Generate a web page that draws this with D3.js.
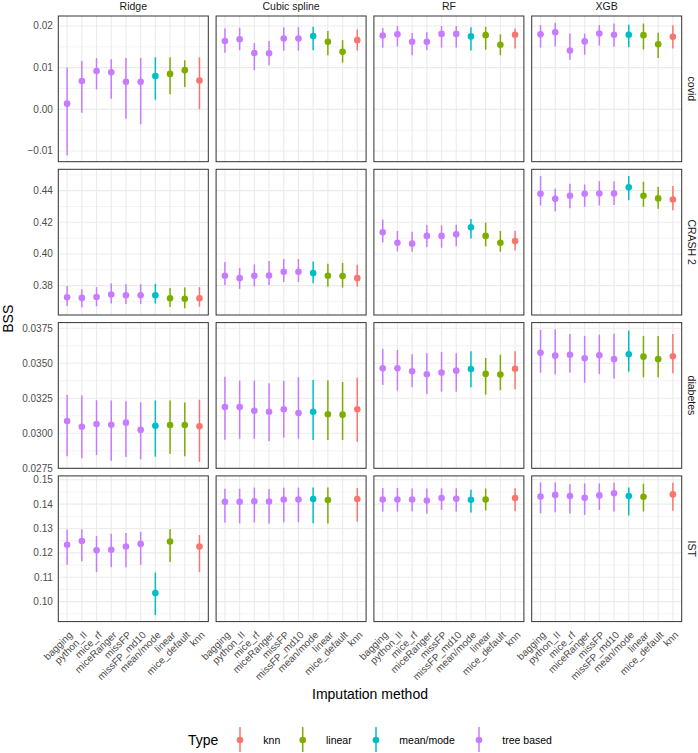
<!DOCTYPE html>
<html>
<head>
<meta charset="utf-8">
<script src="https://cdn.jsdelivr.net/npm/d3@7"></script>
<style>
  html, body { margin: 0; padding: 0; background: #fff; }
  svg { display: block; font-family: "Liberation Sans", Arial, Helvetica, sans-serif; }
</style>
</head>
<body>
<svg id="chart" width="698" height="753"></svg>
<script>
// ---------------- DATA ----------------
const methods = ["bagging","python_II","mice_rf","miceRanger","missFP","missFP_md10","mean/mode","linear","mice_default","knn"];
const methodType = ["tree based","tree based","tree based","tree based","tree based","tree based","mean/mode","linear","linear","knn"];
const models = ["Ridge","Cubic spline","RF","XGB"];
const datasets = ["covid","CRASH 2","diabetes","IST"];
const typeNames = ["knn","linear","mean/mode","tree based"];
const typeColors = ["#F8766D","#7CAE00","#00BFC4","#C77CFF"];

// y tick values / labels per dataset (row)
const covidTicks = [-0.01, 0.00, 0.01, 0.02];
const covidTickLabels = ["\u22120.01","0.00","0.01","0.02"];
const crashTicks = [0.38, 0.40, 0.42, 0.44];
const crashTickLabels = ["0.38","0.40","0.42","0.44"];
const diabetesTicks = [0.0275, 0.0300, 0.0325, 0.0350, 0.0375];
const diabetesTickLabels = ["0.0275","0.0300","0.0325","0.0350","0.0375"];
const istTicks = [0.10, 0.11, 0.12, 0.13, 0.14, 0.15];
const istTickLabels = ["0.10","0.11","0.12","0.13","0.14","0.15"];
// free y ranges per row (expanded data range)
const covidRange = [-0.01257, 0.0224];
const crashRange = [0.3614, 0.4535];
const diabetesRange = [0.0275, 0.0379];
const istRange = [0.0918, 0.1516];

// estimates / lower / upper, per model in order Ridge, Cubic spline, RF, XGB
const covidEst = [
  [0.00136,0.0068,0.0092,0.0089,0.0066,0.0066,0.0080,0.0085,0.0094,0.0069],
  [0.0164,0.0168,0.0135,0.01345,0.0170,0.0170,0.0176,0.0162,0.0138,0.0166],
  [0.0177,0.0180,0.0162,0.0162,0.0181,0.0181,0.0175,0.0178,0.0155,0.0179],
  [0.0180,0.0185,0.0141,0.0163,0.0182,0.0179,0.0179,0.0178,0.0156,0.0174]
];
const covidLo = [
  [-0.0110,-0.0008,0.0048,0.00255,-0.00225,-0.0036,0.0023,0.0036,0.00536,0.0000],
  [0.0136,0.0142,0.0094,0.0106,0.0141,0.0141,0.0142,0.0130,0.0112,0.0141],
  [0.0148,0.0151,0.0130,0.0142,0.0148,0.0148,0.0141,0.0143,0.0130,0.0146],
  [0.0148,0.0151,0.0119,0.0131,0.0153,0.0150,0.0149,0.0144,0.0123,0.0146]
];
const covidHi = [
  [0.0100,0.0116,0.0123,0.0120,0.0123,0.0123,0.0125,0.0125,0.0118,0.0125],
  [0.0194,0.0196,0.0159,0.0164,0.0197,0.0197,0.0198,0.0188,0.0166,0.0192],
  [0.0195,0.0200,0.0183,0.0185,0.0200,0.0200,0.0197,0.0198,0.0180,0.0194],
  [0.0202,0.0208,0.0182,0.0182,0.0202,0.0206,0.0203,0.0206,0.0184,0.0202]
];

const crashEst = [
  [0.3726,0.3722,0.3728,0.3743,0.3739,0.3739,0.3739,0.3720,0.3716,0.3720],
  [0.3862,0.3847,0.3862,0.3864,0.3887,0.3887,0.3879,0.3862,0.3860,0.3847],
  [0.4137,0.4071,0.4065,0.4114,0.4114,0.4124,0.4168,0.4114,0.4071,0.4082],
  [0.4380,0.4349,0.4368,0.4380,0.4382,0.4382,0.4422,0.4368,0.4351,0.4344]
];
const crashLo = [
  [0.3671,0.3663,0.3669,0.3686,0.3684,0.3684,0.3686,0.3665,0.3656,0.3667],
  [0.3802,0.3779,0.3794,0.3802,0.3823,0.3823,0.3815,0.3792,0.3787,0.3794],
  [0.4073,0.4016,0.4014,0.4044,0.4039,0.4048,0.4097,0.4048,0.4014,0.4022],
  [0.4306,0.4270,0.4289,0.4298,0.4306,0.4310,0.4340,0.4298,0.4285,0.4276]
];
const crashHi = [
  [0.3798,0.3777,0.3790,0.3813,0.3809,0.3809,0.3811,0.3785,0.3788,0.3790],
  [0.3949,0.3912,0.3933,0.3955,0.3968,0.3968,0.3952,0.3938,0.3944,0.3931],
  [0.4217,0.4145,0.4141,0.4183,0.4181,0.4185,0.4221,0.4198,0.4145,0.4145],
  [0.4492,0.4412,0.4444,0.4439,0.4460,0.4460,0.4492,0.4456,0.4425,0.4429]
];

const diabetesEst = [
  [0.03088,0.03047,0.03066,0.03061,0.03076,0.03024,0.03054,0.03059,0.03059,0.03050],
  [0.03188,0.03188,0.03161,0.03154,0.03171,0.03145,0.03154,0.03136,0.03133,0.03171],
  [0.03464,0.03464,0.03443,0.03421,0.03433,0.03447,0.03459,0.03424,0.03419,0.03461],
  [0.03574,0.03554,0.03561,0.03536,0.03557,0.03529,0.03564,0.03547,0.03529,0.03550]
];
const diabetesLo = [
  [0.02836,0.02821,0.02845,0.02804,0.02831,0.02814,0.02833,0.02854,0.02836,0.02797],
  [0.02954,0.02961,0.02961,0.02945,0.02969,0.02961,0.02952,0.02952,0.02952,0.02940],
  [0.03345,0.03304,0.03329,0.03283,0.03297,0.03297,0.03329,0.03276,0.03307,0.03314],
  [0.03433,0.03419,0.03433,0.03361,0.03424,0.03390,0.03440,0.03400,0.03400,0.03429]
];
const diabetesHi = [
  [0.03274,0.03269,0.03236,0.03234,0.03229,0.03221,0.03234,0.03234,0.03219,0.03240],
  [0.03404,0.03376,0.03376,0.03357,0.03374,0.03400,0.03381,0.03379,0.03366,0.03397],
  [0.03602,0.03595,0.03564,0.03571,0.03581,0.03571,0.03586,0.03538,0.03561,0.03586],
  [0.03738,0.03743,0.03709,0.03695,0.03704,0.03711,0.03733,0.03695,0.03695,0.03709]
];

// IST: mice_default has no estimate (null)
const istEst = [
  [0.1233,0.1249,0.1211,0.1213,0.1226,0.1237,0.1035,0.1247,null,0.1226],
  [0.1410,0.1410,0.1412,0.1411,0.1419,0.1419,0.1421,0.1417,null,0.1421],
  [0.1419,0.1419,0.1419,0.1415,0.1425,0.1422,0.1418,0.1419,null,0.1425],
  [0.1431,0.1438,0.1433,0.1426,0.1436,0.1445,0.1433,0.1430,null,0.1440]
];
const istLo = [
  [0.1151,0.1167,0.1121,0.1141,0.1141,0.1151,0.0945,0.1163,null,0.1121],
  [0.1325,0.1321,0.1325,0.1321,0.1326,0.1326,0.1322,0.1321,null,0.1329],
  [0.1370,0.1370,0.1371,0.1362,0.1376,0.1370,0.1366,0.1374,null,0.1371],
  [0.1363,0.1367,0.1362,0.1356,0.1376,0.1370,0.1353,0.1370,null,0.1373]
];
const istHi = [
  [0.1296,0.1297,0.1269,0.1279,0.1282,0.1286,0.1119,0.1297,null,0.1273],
  [0.1463,0.1463,0.1468,0.1461,0.1468,0.1468,0.1468,0.1468,null,0.1466],
  [0.1466,0.1466,0.1464,0.1464,0.1465,0.1465,0.1459,0.1464,null,0.1465],
  [0.1489,0.1489,0.1482,0.1485,0.1485,0.1488,0.1468,0.1484,null,0.1488]
];

// ---------------- LAYOUT ----------------
const rows = [
  {ticks: covidTicks, labels: covidTickLabels, range: covidRange, est: covidEst, lo: covidLo, hi: covidHi},
  {ticks: crashTicks, labels: crashTickLabels, range: crashRange, est: crashEst, lo: crashLo, hi: crashHi},
  {ticks: diabetesTicks, labels: diabetesTickLabels, range: diabetesRange, est: diabetesEst, lo: diabetesLo, hi: diabetesHi},
  {ticks: istTicks, labels: istTickLabels, range: istRange, est: istEst, lo: istLo, hi: istHi}
];

const plotLeft = 58.3, plotTop = 16, panelW = 150, panelH = 145.7, gapX = 7.8, gapY = 7.6;
const colorOf = d3.scaleOrdinal().domain(typeNames).range(typeColors);
const x = d3.scalePoint().domain(methods).range([0, panelW]).padding(0.6);

const svg = d3.select("#chart");
svg.append("rect").attr("width", 698).attr("height", 753).attr("fill", "#fff");

rows.forEach((row, ri) => {
  const py = plotTop + ri * (panelH + gapY);
  const y = d3.scaleLinear().domain(row.range).range([panelH, 0]);
  const step = row.ticks[1] - row.ticks[0];
  const minor = [];
  for (let i = -1; i < row.ticks.length; i++) {
    const m = row.ticks[0] + (i + 0.5) * step;
    if (m >= row.range[0] && m <= row.range[1]) minor.push(m);
  }

  models.forEach((model, ci) => {
    const px = plotLeft + ci * (panelW + gapX);
    const g = svg.append("g").attr("transform", `translate(${px},${py})`);

    g.selectAll("line.minor").data(minor).join("line")
      .attr("x1", 0).attr("x2", panelW)
      .attr("y1", d => y(d)).attr("y2", d => y(d))
      .attr("stroke", "#EBEBEB").attr("stroke-width", 0.6);
    g.selectAll("line.majy").data(row.ticks).join("line")
      .attr("x1", 0).attr("x2", panelW)
      .attr("y1", d => y(d)).attr("y2", d => y(d))
      .attr("stroke", "#EBEBEB").attr("stroke-width", 1.1);
    g.selectAll("line.majx").data(methods).join("line")
      .attr("x1", d => x(d)).attr("x2", d => x(d))
      .attr("y1", 0).attr("y2", panelH)
      .attr("stroke", "#EBEBEB").attr("stroke-width", 1.1);

    const pts = methods.map((m, i) => ({
      m, type: methodType[i],
      est: row.est[ci][i], lo: row.lo[ci][i], hi: row.hi[ci][i]
    })).filter(d => d.est !== null);

    g.selectAll("line.err").data(pts).join("line")
      .attr("x1", d => x(d.m)).attr("x2", d => x(d.m))
      .attr("y1", d => y(d.lo)).attr("y2", d => y(d.hi))
      .attr("stroke", d => colorOf(d.type)).attr("stroke-width", 1.5);
    g.selectAll("circle.pt").data(pts).join("circle")
      .attr("cx", d => x(d.m)).attr("cy", d => y(d.est)).attr("r", 3.3)
      .attr("fill", d => colorOf(d.type));

    g.append("rect").attr("x", 0).attr("y", 0).attr("width", panelW).attr("height", panelH)
      .attr("fill", "none").attr("stroke", "#333333").attr("stroke-width", 1);

    if (ci === 0) {
      g.selectAll("text.yt").data(row.ticks).join("text")
        .attr("x", -5.5).attr("y", d => y(d)).attr("dy", "0.35em")
        .attr("text-anchor", "end").attr("font-size", 10).attr("fill", "#4D4D4D")
        .text((d, i) => row.labels[i]);
    }
    if (ri === 0) {
      g.append("text").attr("x", panelW / 2).attr("y", -6.5)
        .attr("text-anchor", "middle").attr("font-size", 10.5).attr("fill", "#1A1A1A")
        .text(model);
    }
    if (ci === models.length - 1) {
      g.append("text").attr("transform", `translate(${panelW + 6.5},${panelH / 2}) rotate(90)`)
        .attr("text-anchor", "middle").attr("font-size", 10.5).attr("fill", "#1A1A1A")
        .text(datasets[ri]);
    }
    if (ri === rows.length - 1) {
      g.selectAll("text.xt").data(methods).join("text")
        .attr("transform", d => `translate(${x(d) + 6},${panelH + 14}) rotate(-45)`)
        .attr("text-anchor", "end").attr("font-size", 10).attr("fill", "#4D4D4D")
        .text(d => d);
    }
  });
});

const totalW = 4 * panelW + 3 * gapX;
const totalH = 4 * panelH + 3 * gapY;
svg.append("text").attr("x", plotLeft + totalW / 2).attr("y", 699)
  .attr("text-anchor", "middle").attr("font-size", 14).attr("fill", "#000")
  .text("Imputation method");
svg.append("text").attr("transform", `translate(12.5,${plotTop + totalH / 2}) rotate(-90)`)
  .attr("text-anchor", "middle").attr("font-size", 14).attr("fill", "#000")
  .text("BSS");

const legY = 740;
svg.append("text").attr("x", 188).attr("y", legY).attr("dy", "0.35em")
  .attr("font-size", 14).attr("fill", "#000").text("Type");
const legKeyX = [240, 302.7, 376, 479];
const lg = svg.selectAll("g.leg").data(typeNames).join("g")
  .attr("transform", (d, i) => `translate(${legKeyX[i]},${legY})`);
lg.append("line").attr("x1", 0).attr("x2", 0).attr("y1", -13).attr("y2", 12)
  .attr("stroke", d => colorOf(d)).attr("stroke-width", 1.5);
lg.append("circle").attr("r", 3.3).attr("fill", d => colorOf(d));
lg.append("text").attr("x", 23.3).attr("dy", "0.35em").attr("font-size", 10.5)
  .attr("fill", "#000").text(d => d);
</script>
</body>
</html>
